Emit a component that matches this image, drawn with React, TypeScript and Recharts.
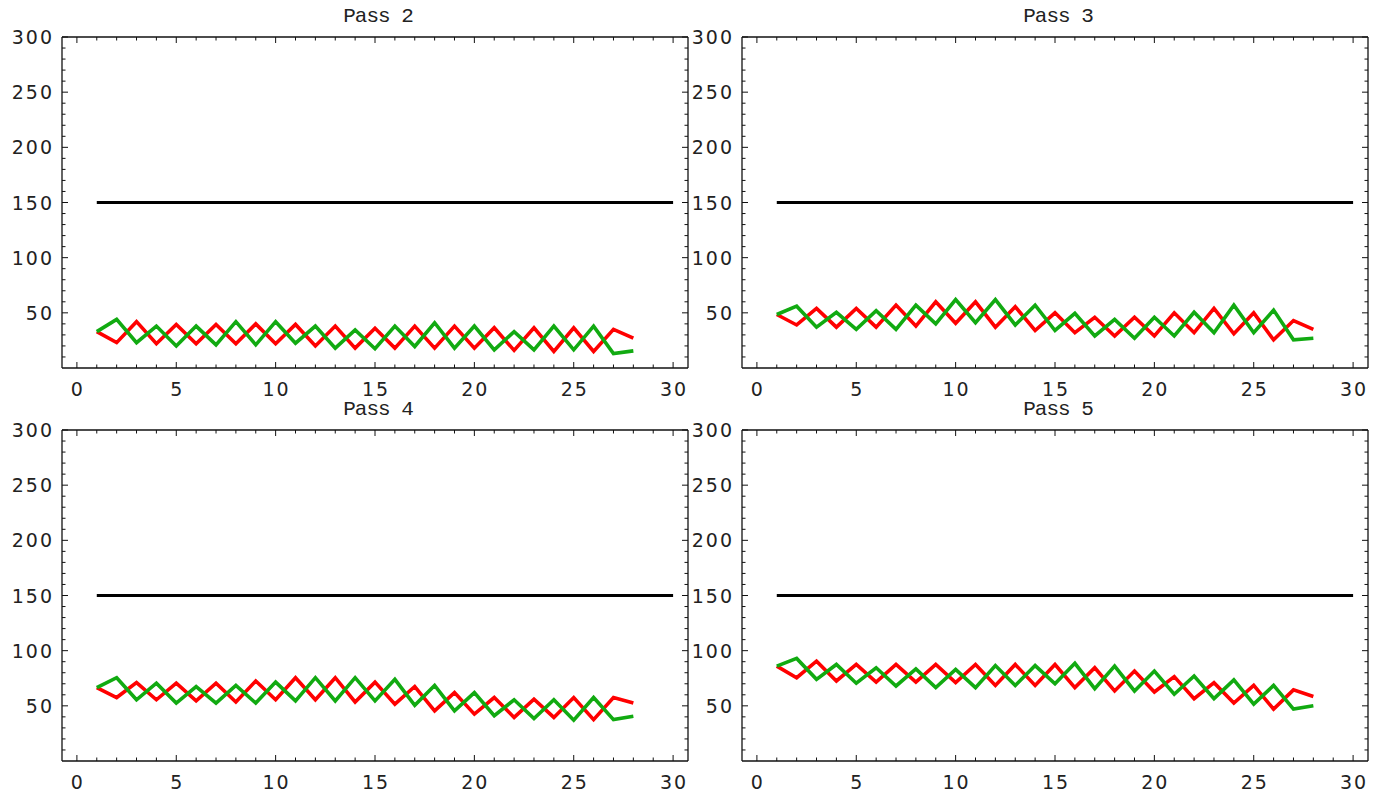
import React from 'react';
import { LineChart, Line, XAxis, YAxis } from 'recharts';

const XS = [1,2,3,4,5,6,7,8,9,10,11,12,13,14,15,16,17,18,19,20,21,22,23,24,25,26,27,28];
const BASE_X = [1, 30];
const BASE_VALUE = 150;
const X_TICKS = [0,1,2,3,4,5,6,7,8,9,10,11,12,13,14,15,16,17,18,19,20,21,22,23,24,25,26,27,28,29,30];
const Y_TICKS = [10,20,30,40,50,60,70,80,90,100,110,120,130,140,150,160,170,180,190,200,210,220,230,240,250,260,270,280,290,300];
const TITLES = ['Pass 2', 'Pass 3', 'Pass 4', 'Pass 5'];

const PASS2_RED = [33,23,42,22,39.5,22,39.5,22,40,22,39.5,20,38,18,36,18,38,18,38,18,36.5,16,36.5,15,36.5,15,35,27];
const PASS2_GREEN = [33,44,23,38,20,38,21,42,21,42,22.5,38,18,34.5,17.5,38,19.5,41,18,38,16.5,33,16.5,38,16.5,38,13,15.5];
const PASS3_RED = [48.5,39,54,37,54,37,57,38,60,40.5,60,37,55.5,34,50,32,46,29,46,29,50,32,54,31,50,25.5,43,35];
const PASS3_GREEN = [48.5,56,37,50.5,35,52,35,57,40,62,41,62,39,57,34,49.5,29,44,27,46,29,50.5,32,57,32,52.5,25.5,27];
const PASS4_RED = [66.5,57.5,71,55.5,70.5,54.5,70.5,53.5,72.5,55.5,75.5,55.5,75.5,53.5,71.5,51.5,67.5,45.5,62,42.5,57.5,39.5,56,39.5,57.5,37.5,57.5,52.5];
const PASS4_GREEN = [66.5,75.5,55.5,70.5,52.5,67.5,52.5,68.5,52.5,71.5,54.5,75.5,54.5,75.5,54.5,74,50.5,68.5,45.5,62,41,55.5,38.5,55.5,37,57.5,37.5,40.5];
const PASS5_RED = [86,75.5,90.5,72.5,87.5,71.5,87.5,71.5,87.5,71,87.5,68.5,87.5,68.5,87.5,66.5,84.5,63.5,81.5,62.5,76.5,56.5,71,52.5,68.5,47,64.5,58.5];
const PASS5_GREEN = [86,93,74,87.5,70.5,84.5,68,83.5,66.5,83,66.5,86.5,68.5,86.5,70,88.5,65.5,86,63.5,81.5,60.5,77,56.5,73.5,51.5,68.5,47,50];

const PANELS = [
  { title: TITLES[0], red: PASS2_RED, green: PASS2_GREEN, left: 0, top: 0 },
  { title: TITLES[1], red: PASS3_RED, green: PASS3_GREEN, left: 680, top: 0 },
  { title: TITLES[2], red: PASS4_RED, green: PASS4_GREEN, left: 0, top: 393 },
  { title: TITLES[3], red: PASS5_RED, green: PASS5_GREEN, left: 680, top: 393 },
];

const AX_L = 62;
const AX_R = 3;
const AX_T = 37;
const AX_B = 36;
const W = 691;
const H = 331 + AX_T + AX_B;
const PL = AX_L;
const PR = W - AX_R;
const PT = AX_T;
const PB = H - AX_B;

const LABEL_FONT = { fontFamily: 'DejaVu Sans', fontSize: 19, letterSpacing: 2, fill: '#222' };
const INK = '#111';

const isMajorX = (v: number) => v % 5 === 0;
const isMajorY = (v: number) => v % 50 === 0;

const BottomTick = (props: any) => {
  const { x, payload } = props;
  const v = payload.value;
  const major = isMajorX(v);
  return (
    <g>
      <line x1={x} x2={x} y1={PB} y2={PB - (major ? 6 : 3.5)} stroke={INK} strokeWidth={1} />
      {major && (
        <text x={x + 1} y={PB + 21} textAnchor="middle" dominantBaseline="central" {...LABEL_FONT}>{v}</text>
      )}
    </g>
  );
};

const TopTick = (props: any) => {
  const { x, payload } = props;
  const major = isMajorX(payload.value);
  return <line x1={x} x2={x} y1={PT} y2={PT + (major ? 6 : 3.5)} stroke={INK} strokeWidth={1} />;
};

const LeftTick = (props: any) => {
  const { y, payload } = props;
  const v = payload.value;
  const major = isMajorY(v);
  return (
    <g>
      <line x1={PL} x2={PL + (major ? 6 : 3.5)} y1={y} y2={y} stroke={INK} strokeWidth={1} />
      {major && (
        <text x={PL - 8} y={y} textAnchor="end" dominantBaseline="central" {...LABEL_FONT}>{v}</text>
      )}
    </g>
  );
};

const RightTick = (props: any) => {
  const { y, payload } = props;
  const major = isMajorY(payload.value);
  return <line x1={PR} x2={PR - (major ? 6 : 3.5)} y1={y} y2={y} stroke={INK} strokeWidth={1} />;
};

const toPoints = (vals: number[]) => XS.map((x, i) => ({ x, y: vals[i] }));
const basePoints = BASE_X.map((x) => ({ x, y: BASE_VALUE }));

const Panel = ({ title, red, green, left, top }: any) => (
  <div style={{ position: 'absolute', left, top, width: W, height: H }}>
    <LineChart width={W} height={H} margin={{ top: 0, right: 0, bottom: 0, left: 0 }}>
      <XAxis xAxisId="b" type="number" dataKey="x" domain={[-0.75, 30.75]} ticks={X_TICKS} interval={0}
        orientation="bottom" height={AX_B} axisLine={{ stroke: INK, strokeWidth: 1.3 }} tickLine={false} tick={<BottomTick />} allowDataOverflow />
      <XAxis xAxisId="t" type="number" dataKey="x" domain={[-0.75, 30.75]} ticks={X_TICKS} interval={0}
        orientation="top" height={AX_T} axisLine={{ stroke: INK, strokeWidth: 1.3 }} tickLine={false} tick={<TopTick />} allowDataOverflow />
      <YAxis yAxisId="l" type="number" domain={[0, 300]} ticks={Y_TICKS} interval={0}
        orientation="left" width={AX_L} axisLine={{ stroke: INK, strokeWidth: 1.3 }} tickLine={false} tick={<LeftTick />} allowDataOverflow />
      <YAxis yAxisId="r" type="number" domain={[0, 300]} ticks={Y_TICKS} interval={0}
        orientation="right" width={AX_R} axisLine={{ stroke: INK, strokeWidth: 1.3 }} tickLine={false} tick={<RightTick />} allowDataOverflow />
      <Line xAxisId="b" yAxisId="l" data={basePoints} dataKey="y" stroke="#000" strokeWidth={3.2} dot={false} isAnimationActive={false} />
      <Line xAxisId="b" yAxisId="l" data={toPoints(red)} dataKey="y" stroke="#ff0000" strokeWidth={3.6} dot={false} isAnimationActive={false} />
      <Line xAxisId="b" yAxisId="l" data={toPoints(green)} dataKey="y" stroke="#11aa11" strokeWidth={3.6} dot={false} isAnimationActive={false} />
    </LineChart>
    <div style={{ position: 'absolute', left: PL + 3, width: PR - PL, top: PT - 29, height: 18, lineHeight: '18px',
      textAlign: 'center', fontFamily: 'Liberation Mono', fontSize: 21, letterSpacing: -1, color: '#222', whiteSpace: 'nowrap' }}>{title}</div>
  </div>
);

export default function App() {
  return (
    <div style={{ position: 'absolute', left: 0, top: 0, width: 1382, height: 797, background: '#fff', overflow: 'hidden' }}>
      {PANELS.map((p) => <Panel key={p.title} {...p} />)}
    </div>
  );
}
